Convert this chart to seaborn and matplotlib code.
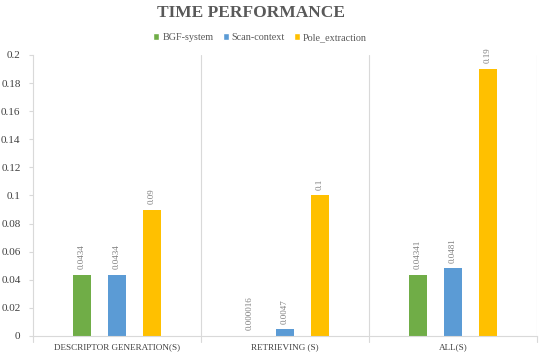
import matplotlib
matplotlib.use("Agg")
import matplotlib.pyplot as plt
import seaborn as sns
import pandas as pd
from matplotlib.patches import Patch

categories = ["DESCRIPTOR GENERATION(S)", "RETRIEVING (S)", "ALL(S)"]
series = ["BGF-system", "Scan-context", "Pole_extraction"]
bgf = [0.0434, 0.000016, 0.04341]
scan = [0.0434, 0.0047, 0.0481]
pole = [0.09, 0.1, 0.19]
bgf_labels = ["0.0434", "0.000016", "0.04341"]
scan_labels = ["0.0434", "0.0047", "0.0481"]
pole_labels = ["0.09", "0.1", "0.19"]
yticks = [0, 0.02, 0.04, 0.06, 0.08, 0.1, 0.12, 0.14, 0.16, 0.18, 0.2]
ytick_labels = ["0", "0.02", "0.04", "0.06", "0.08", "0.1", "0.12", "0.14", "0.16", "0.18", "0.2"]
colors = ["#70AD47", "#5B9BD5", "#FFC000"]

rows = []
for s, vals in zip(series, [bgf, scan, pole]):
    for c, v in zip(categories, vals):
        rows.append({"cat": c, "series": s, "value": v})
df = pd.DataFrame(rows)

sns.set_style("white")
plt.rcParams["font.family"] = ["Liberation Serif", "DejaVu Serif"]

fig = plt.figure(figsize=(5.5, 3.58), dpi=100)
ax = fig.add_axes([0.06, 0.0615, 0.916, 0.785])

sns.barplot(data=df, x="cat", y="value", hue="series", palette=colors,
            width=0.625, ax=ax, legend=False, saturation=1, errorbar=None)

# narrow the bars keeping their centers
bw = 0.107
for p in ax.patches:
    cx = p.get_x() + p.get_width() / 2
    p.set_width(bw)
    p.set_x(cx - bw / 2)
    p.set_edgecolor("none")

for cont, labs in zip(ax.containers, [bgf_labels, scan_labels, pole_labels]):
    ax.bar_label(cont, labels=labs, rotation=90, padding=4, fontsize=6.5,
                 color="#7F7F7F")

ax.set_xlim(-0.5, 2.5)
ax.set_ylim(0, 0.2)
ax.set_yticks(yticks)
ax.set_yticklabels(ytick_labels, fontsize=8, color="#404040")
ax.set_xticks(range(len(categories)))
ax.set_xticklabels(categories, fontsize=6.6, color="#404040")
ax.set_xlabel("")
ax.set_ylabel("")
ax.tick_params(axis="y", length=3, width=0.8, color="#D9D9D9", pad=6, left=True)
ax.tick_params(axis="x", length=0, pad=5)

for b in [0.5, 1.5, 2.5]:
    ax.axvline(b, color="#D9D9D9", lw=0.8, zorder=0)
for b in [-0.5, 0.5, 1.5, 2.5]:
    ax.plot([b, b], [0, -0.004], color="#D9D9D9", lw=0.8, clip_on=False)

for side in ["right", "top"]:
    ax.spines[side].set_visible(False)
for side in ["left", "bottom"]:
    ax.spines[side].set_color("#D9D9D9")
    ax.spines[side].set_linewidth(0.8)

fig.text(0.456, 0.963, "TIME PERFORMANCE", ha="center", va="center",
         fontsize=12.5, fontweight="bold", color="#595959")

handles = [Patch(facecolor=c, label=s) for c, s in zip(colors, series)]
fig.legend(handles=handles, loc="center", bbox_to_anchor=(0.473, 0.895),
           ncol=3, frameon=False, fontsize=7.3, handlelength=0.6,
           handleheight=0.6, handletextpad=0.3, columnspacing=0.9,
           labelcolor="#595959")

fig.savefig("out.png", dpi=100)
